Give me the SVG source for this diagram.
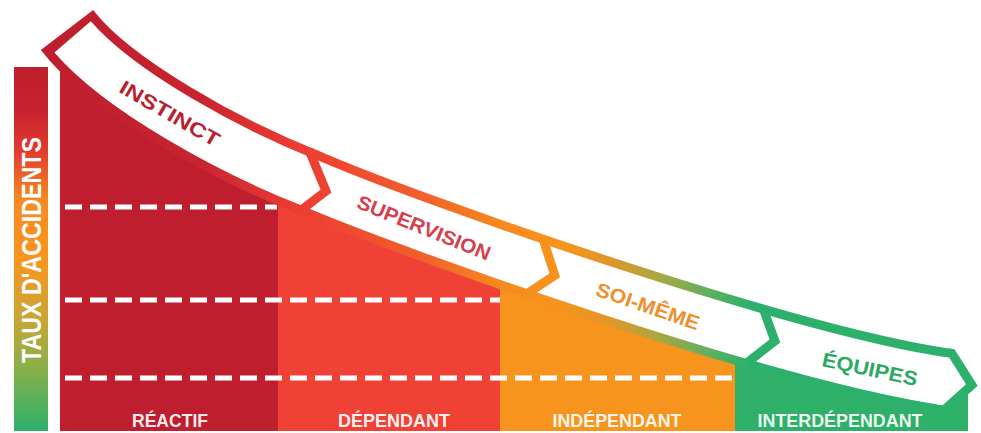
<svg xmlns="http://www.w3.org/2000/svg" width="981" height="433" viewBox="0 0 981 433">
<style>
.lbl{font-family:'Liberation Sans Narrow','Liberation Sans',Arial,sans-serif;font-weight:bold;font-size:19px;fill:#fff;fill-opacity:0.93;text-anchor:middle}
.bt{font-family:'Liberation Sans',Arial,sans-serif;font-weight:bold;font-size:20px;text-anchor:middle}
.dash{stroke:#fff;stroke-width:5;stroke-dasharray:17 8;fill:none}
.sep{fill:none;stroke:url(#bandGrad);stroke-width:9;stroke-linejoin:miter}
.col{clip-path:url(#under)}
</style>
<defs>
<linearGradient id="bandGrad" gradientUnits="userSpaceOnUse" x1="60" y1="0" x2="980" y2="0">
<stop offset="0" stop-color="#BE1E2D"/>
<stop offset="0.152" stop-color="#C82430"/>
<stop offset="0.261" stop-color="#EC3D33"/>
<stop offset="0.391" stop-color="#F15F2B"/>
<stop offset="0.478" stop-color="#F6891F"/>
<stop offset="0.543" stop-color="#F7941D"/>
<stop offset="0.598" stop-color="#E0962A"/>
<stop offset="0.652" stop-color="#A8A843"/>
<stop offset="0.707" stop-color="#5EB05F"/>
<stop offset="0.75" stop-color="#2DB06B"/>
<stop offset="1" stop-color="#2DB06B"/>
</linearGradient>
<linearGradient id="axisGrad" gradientUnits="userSpaceOnUse" x1="0" y1="67" x2="0" y2="431">
<stop offset="0" stop-color="#BE1E2D"/>
<stop offset="0.118" stop-color="#C72230"/>
<stop offset="0.228" stop-color="#E2392F"/>
<stop offset="0.365" stop-color="#F58A22"/>
<stop offset="0.53" stop-color="#F7961F"/>
<stop offset="0.695" stop-color="#C7A635"/>
<stop offset="0.832" stop-color="#86B04A"/>
<stop offset="1" stop-color="#2DB06B"/>
</linearGradient>
<clipPath id="under"><path d="M60,433 L60,40 L67,30 C110,86 226,150 310,183 C420,230 790,360 950,382 L981,386 L981,433 Z"/></clipPath>
<path id="bandPath" d="M67,30 C110,86 226,150 310,183 C420,230 790,360 950,382"/>
</defs>
<rect width="981" height="433" fill="#fff"/>

<g id="axis">
<rect x="14" y="67" width="34" height="364" fill="url(#axisGrad)"/>
<text transform="translate(41,250) rotate(-90)" font-family="'Liberation Sans Narrow','Liberation Sans',Arial,sans-serif" font-weight="bold" font-size="27" fill="#fff" text-anchor="middle" textLength="226" lengthAdjust="spacingAndGlyphs">TAUX D'ACCIDENTS</text>
</g>

<g id="stage-reactif">
<rect class="col" x="60" y="20" width="218" height="411" fill="#BE1E2D"/>
<text class="lbl" x="170" y="427" textLength="76" lengthAdjust="spacingAndGlyphs">RÉACTIF</text>
</g>
<g id="stage-dependant">
<rect class="col" x="278" y="20" width="222" height="411" fill="#EF4136"/>
<text class="lbl" x="394" y="427" textLength="112" lengthAdjust="spacingAndGlyphs">DÉPENDANT</text>
</g>
<g id="stage-independant">
<rect class="col" x="500" y="20" width="235" height="411" fill="#F7941D"/>
<text class="lbl" x="617" y="427" textLength="129" lengthAdjust="spacingAndGlyphs">INDÉPENDANT</text>
</g>
<g id="stage-interdependant">
<rect class="col" x="735" y="20" width="233" height="411" fill="#2EB069"/>
<text class="lbl" x="840" y="427" textLength="165" lengthAdjust="spacingAndGlyphs">INTERDÉPENDANT</text>
</g>

<g id="levels">
<line class="dash" x1="65" y1="207" x2="277" y2="207"/>
<line class="dash" x1="65" y1="300" x2="500" y2="300"/>
<line class="dash" x1="65" y1="378" x2="735" y2="378"/>
</g>

<g id="connectors">
<use href="#bandPath" fill="none" stroke="url(#bandGrad)" stroke-width="66"/>
<use href="#bandPath" fill="none" stroke="#fff" stroke-width="48" stroke-dasharray="0 9 3000"/>
<polyline class="sep" points="309,150 326,191 300,211"/>
<polyline class="sep" points="543.6,240.6 554.8,275.3 524.4,295.4"/>
<polyline class="sep" points="762.7,307.3 774.9,341 746.7,363.1"/>
<polygon points="948,348.5 954.5,349.3 977.7,385.8 945.5,414.7 939,413.8" fill="#2DB06B"/>
<polygon points="943.4,356.9 949.1,357.6 966,384.2 942.6,405.2 936.8,404.4" fill="#fff"/>
</g>

<g id="phases">
<text class="bt" transform="translate(170,113) rotate(30)" y="7.5" font-size="21" fill="#B91F2E" textLength="112" lengthAdjust="spacingAndGlyphs">INSTINCT</text>
<text class="bt" transform="translate(424,227.5) rotate(22)" y="7.2" fill="#D6404C" textLength="142" lengthAdjust="spacingAndGlyphs">SUPERVISION</text>
<text class="bt" transform="translate(648,306) rotate(19)" y="7.2" fill="#EE8F2B" textLength="108" lengthAdjust="spacingAndGlyphs">SOI-MÊME</text>
<text class="bt" transform="translate(870,369) rotate(12)" y="7.2" fill="#2DAA62" textLength="97" lengthAdjust="spacingAndGlyphs">ÉQUIPES</text>
</g>
</svg>
